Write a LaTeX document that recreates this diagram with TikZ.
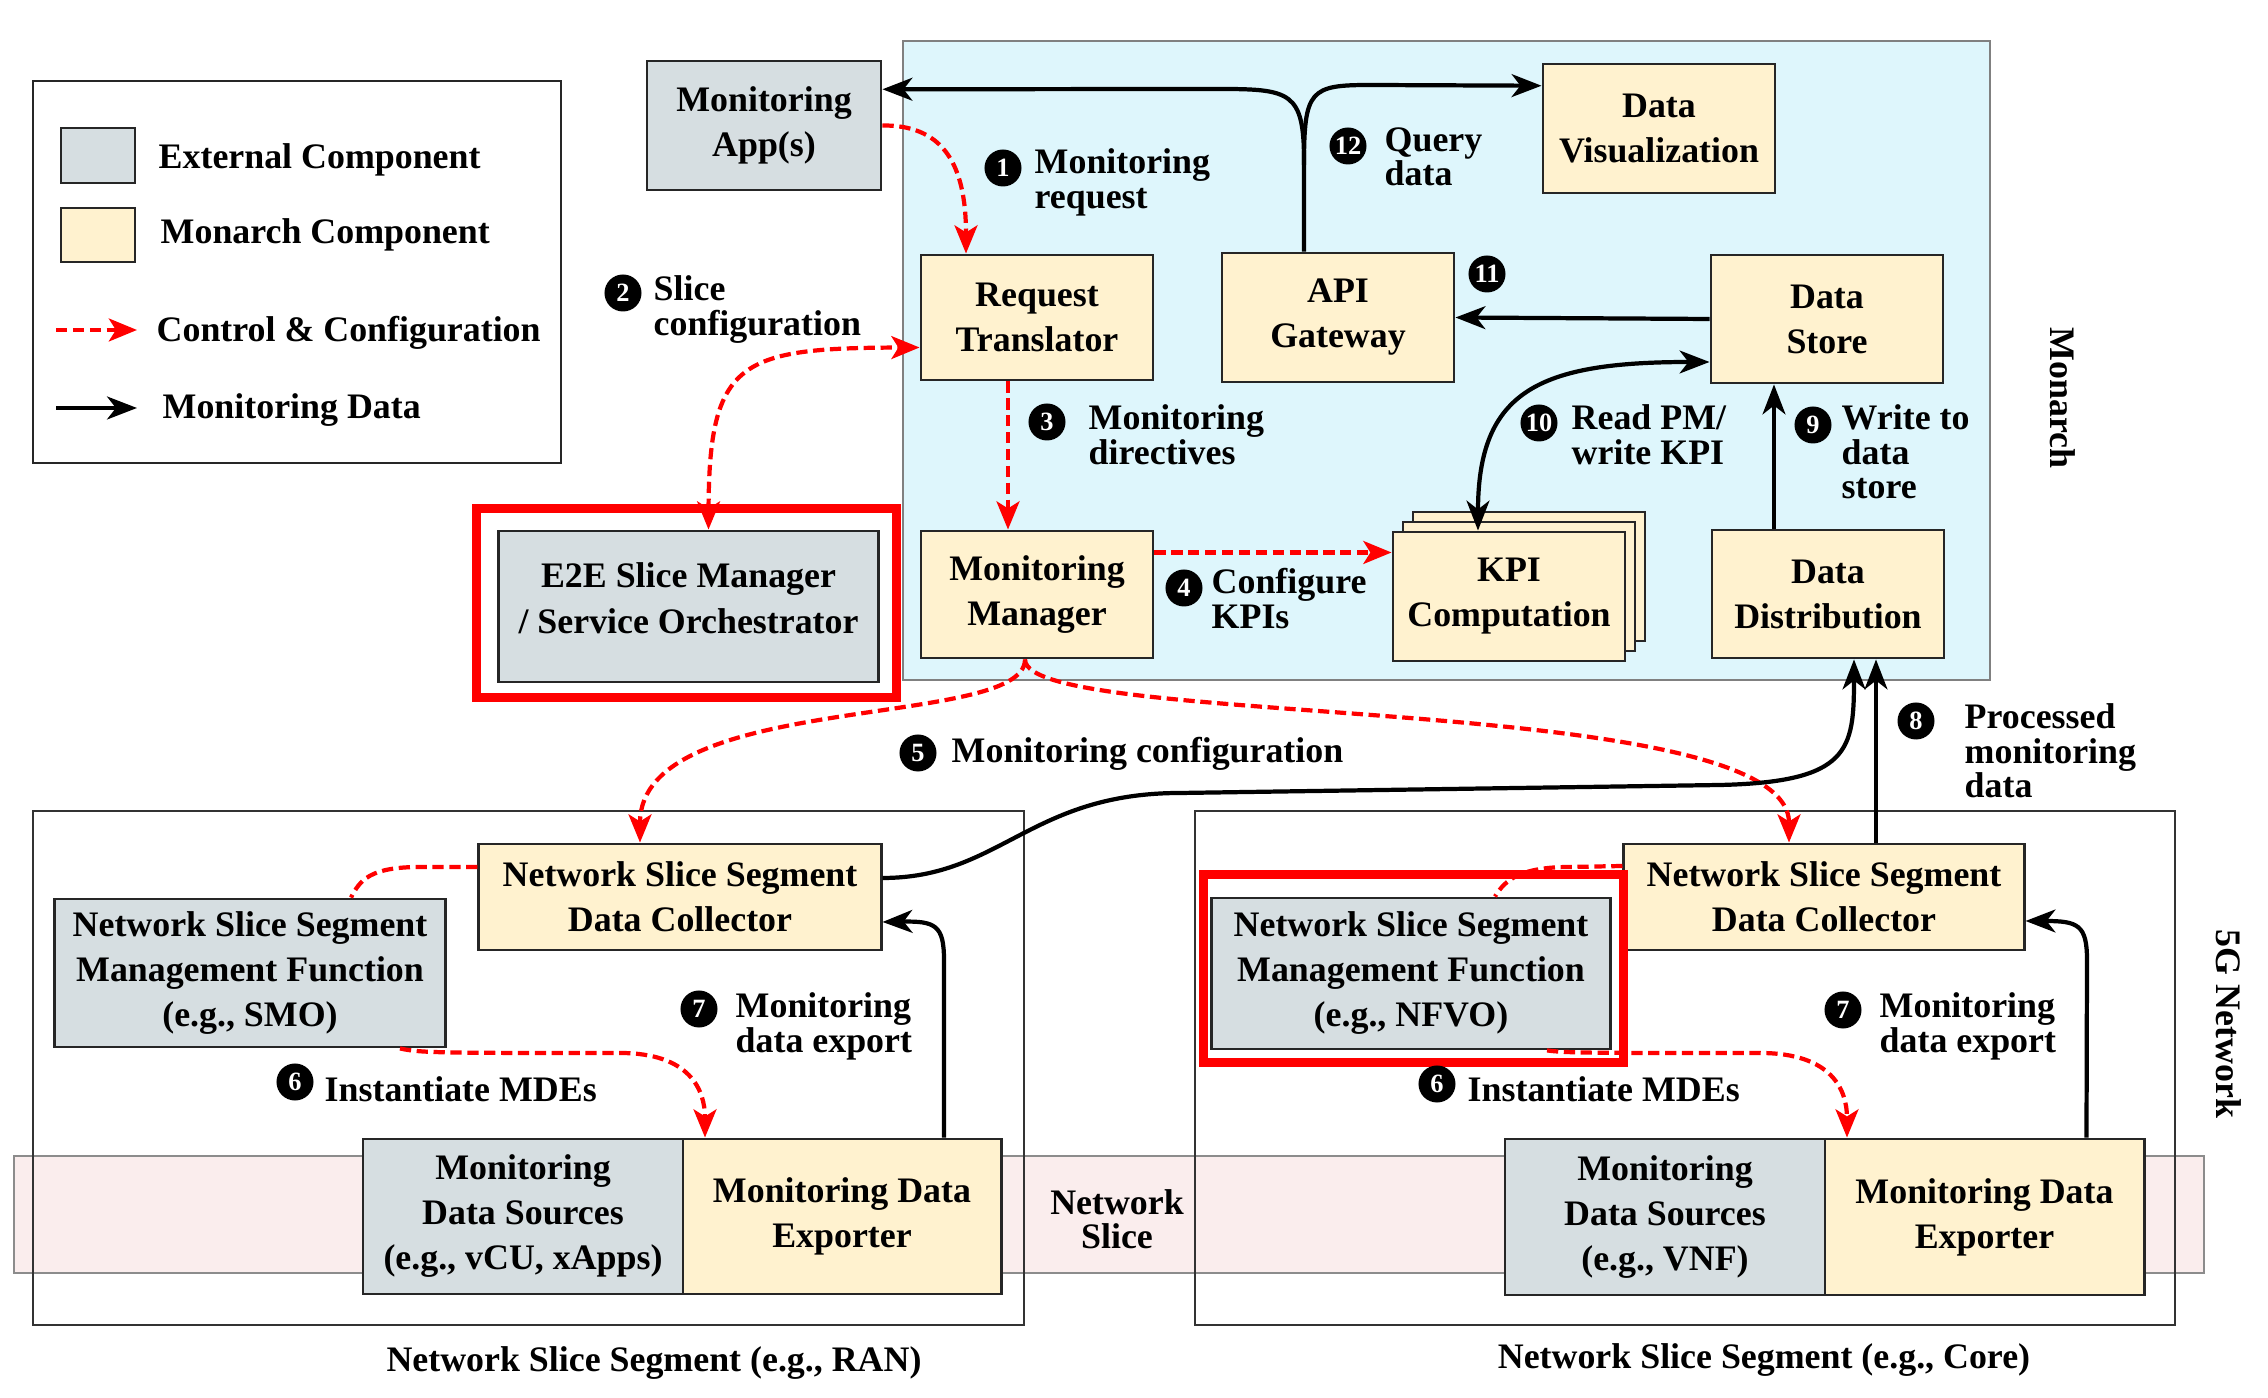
\documentclass[tikz,border=0pt]{standalone}
\usepackage{fontspec}
\setmainfont{Liberation Serif}
\usetikzlibrary{arrows.meta,calc,positioning}
\definecolor{ext-gray}{RGB}{214,222,225}
\definecolor{mon-beige}{RGB}{255,242,207}
\definecolor{monarch-blue}{RGB}{222,246,252}
\definecolor{slice-pink}{RGB}{250,237,237}
\definecolor{ctrl-red}{RGB}{255,0,0}

\begin{document}
\begin{tikzpicture}[x=0.01cm, y=-0.01cm,
		font=\fontsize{10.2}{12.8}\selectfont\bfseries,
		box/.style={draw=black!85, line width=0.8pt, align=center, inner sep=2pt, minimum width=2.32cm, minimum height=1.28cm},
		ext/.style={box, fill=ext-gray},
		mon/.style={box, fill=mon-beige},
		ctrl/.style={draw=ctrl-red, line width=1.2pt, dash pattern=on 3.2pt off 1.6pt, -{Stealth[length=8pt,width=6.5pt,inset=2pt]}},
		ctrlboth/.style={ctrl, {Stealth[length=8pt,width=6.5pt,inset=2pt]}-{Stealth[length=8pt,width=6.5pt,inset=2pt]}},
		data/.style={draw=black, line width=1.2pt, -{Stealth[length=8.5pt,width=6.5pt,inset=2.5pt]}},
		databoth/.style={data, {Stealth[length=8.5pt,width=6.5pt,inset=2.5pt]}-{Stealth[length=8.5pt,width=6.5pt,inset=2.5pt]}},
		num/.style={circle, fill=black, text=white, inner sep=0pt, minimum size=0.37cm, font=\fontsize{7.5}{8}\selectfont\bfseries},
		lbl/.style={align=left, inner sep=0pt, font=\fontsize{10.2}{9.8}\selectfont\bfseries},
		redframe/.style={draw=ctrl-red, line width=0.09cm}]
		
		% Fix the page to the size of the picture
		\useasboundingbox (0,0) rectangle (2268,1398);
		
		% Draw the Monarch region and the network slice band
		\filldraw[fill=monarch-blue, draw=black!50, line width=0.8pt] (903,41) rectangle (1990,680);
		\filldraw[fill=slice-pink, draw=black!45, line width=0.8pt] (14,1156) rectangle (2204,1273);
		
		% Draw the two network slice segments
		\draw[black!80, line width=0.8pt] (33,811) rectangle (1024,1325);
		\draw[black!80, line width=0.8pt] (1195,811) rectangle (2175,1325);
		
		% Draw the legend
		\draw[black!85, line width=0.8pt] (33,81) rectangle (561,463);
		\node (lgext) [ext, minimum width=0.74cm, minimum height=0.55cm] at (98,155.5) {};
		\node (lgmon) [mon, minimum width=0.74cm, minimum height=0.54cm] at (98,235) {};
		\node [lbl, anchor=west] at (158,160) {External Component};
		\node [lbl, anchor=west] at (160,235) {Monarch Component};
		\node [lbl, anchor=west] at (156,333) {Control \& Configuration};
		\node [lbl, anchor=west] at (162,410) {Monitoring Data};
		\coordinate (lgctrla) at (56,330);
		\coordinate (lgctrlb) at (137,330);
		\coordinate (lgdataa) at (56,408);
		\coordinate (lgdatab) at (137,408);
		\draw[ctrl] (lgctrla) -- (lgctrlb);
		\draw[data] (lgdataa) -- (lgdatab);
		
		% Draw the external monitoring application
		\node (monapp) [ext, minimum width=2.34cm, minimum height=1.29cm] at (764,125.5) {Monitoring\\App(s)};
		
		% Draw the Monarch components
		\node (datavis) [mon, minimum height=1.29cm] at (1659,128.5) {Data\\Visualization};
		\node (reqtrans) [mon, minimum height=1.25cm] at (1037,317.5) {Request\\Translator};
		\node (apigw) [mon, minimum height=1.29cm] at (1338,317.5) {API\\Gateway};
		\node (datastore) [mon] at (1827,319) {Data\\Store};
		\node (monmgr) [mon, minimum height=1.27cm] at (1037,594.5) {Monitoring\\Manager};
		\node (kpiback2) [mon, minimum height=1.29cm] at (1529,576.5) {};
		\node (kpiback1) [mon, minimum height=1.29cm] at (1519,586.5) {};
		\node (kpicomp) [mon, minimum height=1.29cm] at (1509,596.5) {KPI\\Computation};
		\node (datadist) [mon] at (1828,594) {Data\\Distribution};
		
		% Draw the end-to-end slice manager
		\node (e2e) [ext, minimum width=3.79cm, minimum height=1.51cm] at (688.5,606.5) {E2E Slice Manager\\/ Service Orchestrator\\[-8pt]};
		\draw[redframe] (476,509) rectangle (896,698);
		
		% Draw the RAN segment
		\node (randc) [mon, minimum width=4.02cm, minimum height=1.06cm] at (680,897) {Network Slice Segment\\Data Collector};
		\node (ranmf) [ext, minimum width=3.9cm, minimum height=1.48cm] at (250,973) {Network Slice Segment\\Management Function\\(e.g., SMO)};
		\node (ransrc) [ext, minimum width=3.2cm, minimum height=1.55cm] at (523,1216.5) {Monitoring\\Data Sources\\(e.g., vCU, xApps)};
		\node (ranexp) [mon, minimum width=3.18cm, minimum height=1.55cm] at (842,1216.5) {Monitoring Data\\Exporter};
		
		% Draw the core segment
		\node (coredc) [mon, minimum width=4.0cm, minimum height=1.06cm] at (1824,897) {Network Slice Segment\\Data Collector};
		\node (coremf) [ext, minimum width=3.98cm, minimum height=1.51cm] at (1411,973.5) {Network Slice Segment\\Management Function\\(e.g., NFVO)};
		\node (coresrc) [ext, minimum width=3.2cm, minimum height=1.56cm] at (1665,1217) {Monitoring\\Data Sources\\(e.g., VNF)};
		\node (coreexp) [mon, minimum width=3.19cm, minimum height=1.56cm] at (1984.5,1217) {Monitoring Data\\Exporter};
		\draw[redframe] (1203,875) rectangle (1623,1063);
		
		% Region and segment titles
		\node [lbl] at (654,1363) {Network Slice Segment (e.g., RAN)};
		\node [lbl] at (1764,1360) {Network Slice Segment (e.g., Core)};
		\node [lbl, align=center] at (1117,1219) {Network\\Slice};
		\node [lbl, rotate=-90] at (2063,398) {Monarch};
		\node [lbl, rotate=-90] at (2229,1024) {5G Network};
		
		% Control and configuration flows
		\draw[ctrl] (monapp.east) .. controls (940,125) and (966,160) .. ($(reqtrans.north)+(-71,0)$);
		\draw[ctrlboth] ($(e2e.north)+(20,0)$) .. controls (709,360) and (740,348) .. ($(reqtrans.west)+(0,30)$);
		\draw[ctrl] ($(reqtrans.south)+(-29,0)$) -- ($(monmgr.north)+(-29,0)$);
		\draw[ctrl] ($(monmgr.east)+(0,-42)$) -- ($(kpicomp.west)+(0,-44)$);
		\coordinate (cfgsplit) at ($(monmgr.south)+(-12,0)$);
		\draw[ctrl] (cfgsplit) .. controls (1025,730) and (640,690) .. ($(randc.north)+(-40,0)$);
		\draw[ctrl] (cfgsplit) .. controls (1025,730) and (1789,690) .. ($(coredc.north)+(-35,0)$);
		\draw[ctrl, -] ($(randc.west)+(0,-30)$) -- (420,867) .. controls (370,867) and (360,880) .. ($(ranmf.north)+(101,0)$);
		\draw[ctrl, -] ($(coredc.west)+(0,-31)$) -- (1570,867) .. controls (1520,867) and (1505,880) .. ($(coremf.north)+(84,0)$);
		\draw[ctrl] ($(ranmf.south)+(150,0)$) .. controls (420,1053) and (440,1053) .. (620,1053) .. controls (690,1053) and (705,1090) .. ($(ranexp.north)+(-137,0)$);
		\draw[ctrl] ($(coremf.south)+(136,0)$) .. controls (1567,1053) and (1587,1053) .. (1760,1053) .. controls (1832,1053) and (1847,1090) .. ($(coreexp.north)+(-137.5,0)$);
		
		% Monitoring data flows
		\draw[data] ($(ranexp.north)+(102,0)$) -- (944,960) .. controls (944,925) and (935,921) .. ($(randc.east)+(0,25)$);
		\draw[data] ($(coreexp.north)+(102,0)$) -- (2087,960) .. controls (2087,925) and (2078,921) .. ($(coredc.east)+(0,24)$);
		\draw[data] ($(randc.east)+(0,-19)$) .. controls (1000,878) and (1030,793) .. (1180,793) -- (1720,785) .. controls (1850,782) and (1854,750) .. ($(datadist.south)+(26,0)$);
		\draw[data] ($(coredc.north)+(52,0)$) -- ($(datadist.south)+(48,0)$);
		\draw[data] ($(datadist.north)+(-54,0)$) -- ($(datastore.south)+(-53,0)$);
		\draw[databoth] ($(datastore.west)+(0,43)$) .. controls (1540,362) and (1478,390) .. ($(kpicomp.north)+(-31,0)$);
		\draw[data] (datastore.west) -- (apigw.east);
		\draw[data] ($(apigw.north)+(-34,0)$) -- (1304,160) .. controls (1304,92) and (1290,89) .. (1220,89) -- (monapp.17);
		\draw[data] (1304,165) .. controls (1304,90) and (1310,85) .. (1370,85) -- (datavis.160);
		
		% Numbered step labels
		\node (s1) [num] at (1003,168) {1};
		\node [lbl, anchor=north west] at (1034,148) {Monitoring\\request};
		\node (s2) [num] at (623,293) {2};
		\node [lbl, anchor=north west] at (653,275) {Slice\\configuration};
		\node (s3) [num] at (1047,422) {3};
		\node [lbl, anchor=north west] at (1088,404) {Monitoring\\directives};
		\node (s4) [num] at (1184,588) {4};
		\node [lbl, anchor=north west] at (1211,568) {Configure\\KPIs};
		\node (s5) [num] at (918,753) {5};
		\node [lbl, anchor=west] at (951,754) {Monitoring configuration};
		\node (s6ran) [num] at (295,1082) {6};
		\node [lbl, anchor=west] at (324,1089) {Instantiate MDEs};
		\node (s6core) [num] at (1437,1084) {6};
		\node [lbl, anchor=west] at (1467,1089) {Instantiate MDEs};
		\node (s7ran) [num] at (699,1009) {7};
		\node [lbl, anchor=north west] at (735,992) {Monitoring\\data export};
		\node (s7core) [num] at (1843,1010) {7};
		\node [lbl, anchor=north west] at (1879,992) {Monitoring\\data export};
		\node (s8) [num] at (1916,721) {8};
		\node [lbl, anchor=north west] at (1964,703) {Processed\\monitoring\\data};
		\node (s9) [num] at (1813,425) {9};
		\node [lbl, anchor=north west] at (1841,404) {Write to\\data\\store};
		\node (s10) [num] at (1539,423) {10};
		\node [lbl, anchor=north west] at (1571,404) {Read PM/\\write KPI};
		\node (s11) [num] at (1487,274) {11};
		\node (s12) [num] at (1348,146) {12};
		\node [lbl, anchor=north west] at (1384,127) {Query\\data};
		
\end{tikzpicture}
\end{document}
